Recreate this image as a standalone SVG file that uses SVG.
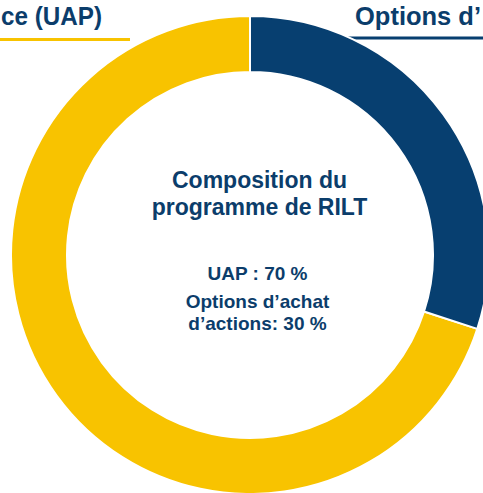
<svg xmlns="http://www.w3.org/2000/svg" width="483" height="493" viewBox="0 0 483 493">
<style>
.t{font-family:"Liberation Sans",Arial,sans-serif;font-weight:bold;fill:#0B3D6B}
.seg{stroke:#FFFFFF;stroke-width:2;stroke-linejoin:miter}
.y{fill:#F8C300}
.b{fill:#073F70}
</style>
<rect width="483" height="493" fill="#FFFFFF"/>
<g id="legend-uap">
<text class="t" x="1" y="25" font-size="26" textLength="101" lengthAdjust="spacingAndGlyphs">ce (UAP)</text>
<rect x="0" y="38" width="130" height="3" fill="#F8C300"/>
</g>
<g id="legend-options">
<text class="t" x="355" y="25" font-size="26" textLength="126" lengthAdjust="spacingAndGlyphs">Options d’</text>
<rect x="345" y="36.5" width="140" height="3" fill="#073F70"/>
</g>
<g id="donut">
<path id="seg-uap" class="seg y" d="M477.30,328.86 A239,239 0 1 1 250,16 L250,72 A183,183 0 1 0 424.04,311.55 Z"/>
<path id="seg-options" class="seg b" d="M250,16 A239,239 0 0 1 477.30,328.86 L424.04,311.55 A183,183 0 0 0 250,72 Z"/>
</g>
<g id="center-label">
<text class="t" x="259.5" y="188" font-size="23" text-anchor="middle">Composition du</text>
<text class="t" x="259.5" y="215" font-size="23" text-anchor="middle">programme de RILT</text>
<text class="t" x="257.5" y="280" font-size="19" text-anchor="middle">UAP : 70 %</text>
<text class="t" x="257.5" y="308" font-size="19" text-anchor="middle">Options d’achat</text>
<text class="t" x="257.5" y="330" font-size="19" text-anchor="middle">d’actions: 30 %</text>
</g>
</svg>
